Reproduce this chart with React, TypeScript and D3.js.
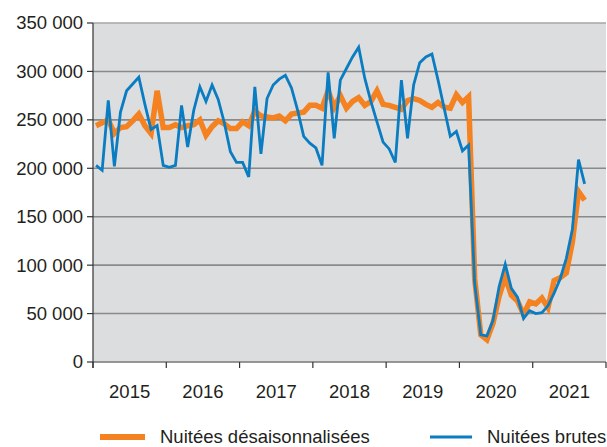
import React from 'react';
import * as d3 from 'd3';

const years = ['2015', '2016', '2017', '2018', '2019', '2020', '2021'];
const yTicks = [0, 50000, 100000, 150000, 200000, 250000, 300000, 350000];

// milliers de nuitées, de janvier 2015 à septembre 2021
const brutes = [
  203, 198, 270, 202, 258, 280, 287, 294, 266, 240, 244, 203,
  201, 203, 265, 222, 260, 284, 269, 286, 271, 247, 217, 206,
  206, 191, 284, 215, 272, 286, 292, 296, 283, 260, 233, 226,
  221, 203, 299, 231, 291, 303, 315, 325, 293, 269, 248, 227,
  220, 206, 291, 231, 286, 309, 315, 318, 291, 262, 233, 238,
  218, 224, 81, 28, 27, 43, 78, 101, 76, 67, 45, 53,
  50, 51, 58, 71, 86, 107, 137, 209, 184,
];
const desaison = [
  244, 247, 250, 236, 242, 243, 249, 256, 244, 236, 280, 242,
  242, 245, 242, 244, 245, 250, 234, 243, 249, 246, 241, 241,
  248, 244, 259, 254, 253, 252, 254, 249, 256, 257, 258, 265,
  265, 262, 280, 263, 275, 262, 269, 273, 265, 269, 280, 266,
  265, 263, 261, 270, 272, 270, 266, 263, 268, 263, 262, 276,
  268, 274, 86, 28, 23, 40, 68, 88, 69, 63, 49, 62,
  60, 66, 56, 84, 87, 92, 124, 176, 167,
];

const W = 607;
const H = 447;
const left = 93;
const right = 606;
const top = 23;
const bottom = 362;
const font = 'Liberation Sans, Arial, sans-serif';
const fs = 18.5;

export default function App() {
  const months = d3.range(years.length * 12);
  const x = d3.scaleBand<number>().domain(months).range([left, right]).padding(0);
  const y = d3.scaleLinear().domain([0, 350000]).range([bottom, top]);
  const cx = (i: number) => (x(i) as number) + x.bandwidth() / 2;

  const mkLine = d3
    .line<number>()
    .x((_, i) => cx(i))
    .y((d) => y(d * 1000));

  const yearEdges = d3.range(years.length + 1).map((k) => left + k * 12 * x.bandwidth());

  return (
    <svg width={W} height={H} style={{ position: 'absolute', left: 0, top: 0 }}>
      <rect x={left} y={top} width={right - left} height={bottom - top} fill="#dcdddf" />
      {yTicks.map((t) => (
        <g key={t}>
          {t > 0 && (
            <line x1={left} x2={right} y1={y(t)} y2={y(t)} stroke={t === 350000 ? '#a6a6a6' : '#8a8a8a'} strokeWidth={1.6} />
          )}
          <line x1={left - 6} x2={left} y1={y(t)} y2={y(t)} stroke="#333" strokeWidth={1.2} />
          <text
            x={83}
            y={y(t)}
            dy="0.35em"
            textAnchor="end"
            fontFamily={font}
            fontSize={fs}
            fill="#231f20"
          >
            {d3.format(',')(t).replace(/,/g, ' ')}
          </text>
        </g>
      ))}
      <line x1={left} x2={right} y1={bottom} y2={bottom} stroke="#777" strokeWidth={1.6} />
      <line x1={left} x2={left} y1={top} y2={bottom + 6} stroke="#333" strokeWidth={1.2} />
      {yearEdges.map((e, k) => (
        <line key={k} x1={e} x2={e} y1={bottom} y2={bottom + 6} stroke="#333" strokeWidth={1.2} />
      ))}
      {years.map((yr, k) => (
        <text
          key={yr}
          x={(yearEdges[k] + yearEdges[k + 1]) / 2}
          y={398}
          textAnchor="middle"
          fontFamily={font}
          fontSize={fs}
          fill="#231f20"
        >
          {yr}
        </text>
      ))}
      <path d={mkLine(desaison) || ''} fill="none" stroke="#f58220" strokeWidth={5.5} strokeLinejoin="miter" />
      <path d={mkLine(brutes) || ''} fill="none" stroke="#0a7cc2" strokeWidth={2.8} strokeLinejoin="miter" />

      <line x1={100} x2={145} y1={437} y2={437} stroke="#f58220" strokeWidth={6} />
      <text x={160} y={437} dy="0.35em" fontFamily={font} fontSize={fs} fill="#231f20">
        Nuitées désaisonnalisées
      </text>
      <line x1={430} x2={472} y1={437} y2={437} stroke="#0a7cc2" strokeWidth={3} />
      <text x={487} y={437} dy="0.35em" fontFamily={font} fontSize={fs} fill="#231f20">
        Nuitées brutes
      </text>
    </svg>
  );
}
